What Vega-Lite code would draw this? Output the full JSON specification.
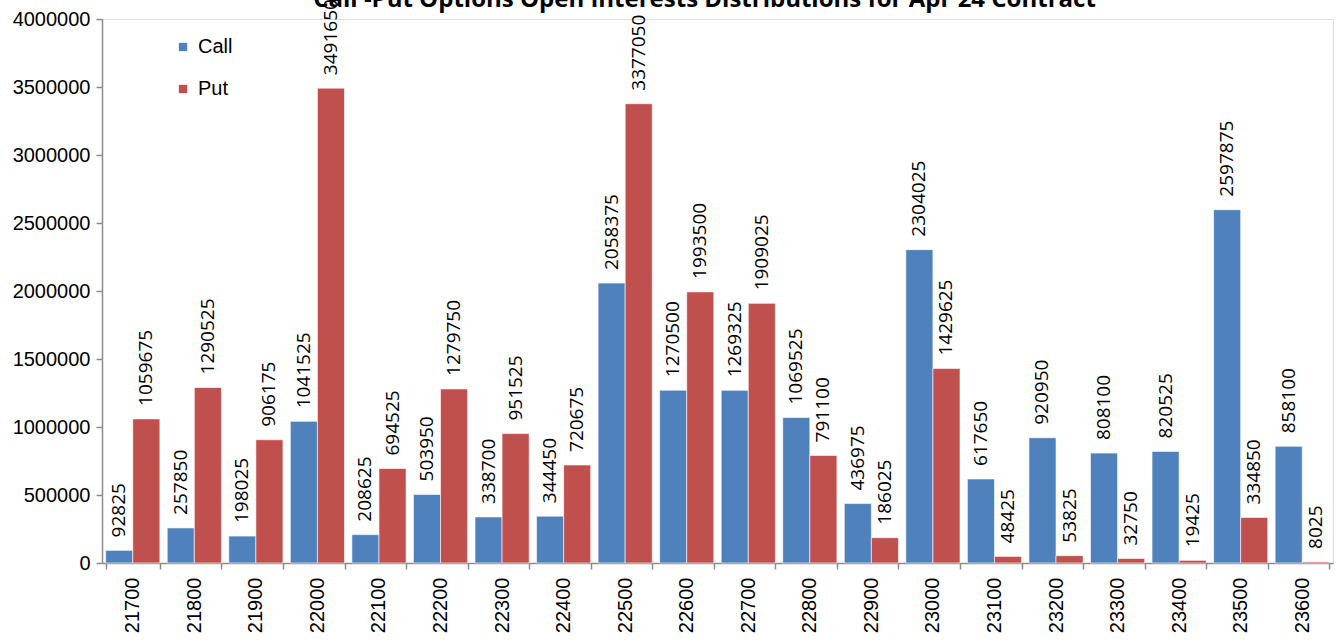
{
  "$schema": "https://vega.github.io/schema/vega-lite/v6.json",
  "autosize": {"type": "none"},
  "width": 1231,
  "height": 544,
  "padding": {"left": 102, "top": 19, "right": 9, "bottom": 78},
  "background": "white",
  "title": {
    "text": "Call -Put Options Open Interests Distributions for Apr 24 Contract",
    "anchor": "middle",
    "frame": "group",
    "dx": -13,
    "offset": -13,
    "font": "Open Sans",
    "fontSize": 24,
    "fontWeight": "bold",
    "color": "black"
  },
  "data": {
    "values": [
      {"strike": "21700", "type": "Call", "oi": 92825},
      {"strike": "21700", "type": "Put", "oi": 1059675},
      {"strike": "21800", "type": "Call", "oi": 257850},
      {"strike": "21800", "type": "Put", "oi": 1290525},
      {"strike": "21900", "type": "Call", "oi": 198025},
      {"strike": "21900", "type": "Put", "oi": 906175},
      {"strike": "22000", "type": "Call", "oi": 1041525},
      {"strike": "22000", "type": "Put", "oi": 3491650},
      {"strike": "22100", "type": "Call", "oi": 208625},
      {"strike": "22100", "type": "Put", "oi": 694525},
      {"strike": "22200", "type": "Call", "oi": 503950},
      {"strike": "22200", "type": "Put", "oi": 1279750},
      {"strike": "22300", "type": "Call", "oi": 338700},
      {"strike": "22300", "type": "Put", "oi": 951525},
      {"strike": "22400", "type": "Call", "oi": 344450},
      {"strike": "22400", "type": "Put", "oi": 720675},
      {"strike": "22500", "type": "Call", "oi": 2058375},
      {"strike": "22500", "type": "Put", "oi": 3377050},
      {"strike": "22600", "type": "Call", "oi": 1270500},
      {"strike": "22600", "type": "Put", "oi": 1993500},
      {"strike": "22700", "type": "Call", "oi": 1269325},
      {"strike": "22700", "type": "Put", "oi": 1909025},
      {"strike": "22800", "type": "Call", "oi": 1069525},
      {"strike": "22800", "type": "Put", "oi": 791100},
      {"strike": "22900", "type": "Call", "oi": 436975},
      {"strike": "22900", "type": "Put", "oi": 186025},
      {"strike": "23000", "type": "Call", "oi": 2304025},
      {"strike": "23000", "type": "Put", "oi": 1429625},
      {"strike": "23100", "type": "Call", "oi": 617650},
      {"strike": "23100", "type": "Put", "oi": 48425},
      {"strike": "23200", "type": "Call", "oi": 920950},
      {"strike": "23200", "type": "Put", "oi": 53825},
      {"strike": "23300", "type": "Call", "oi": 808100},
      {"strike": "23300", "type": "Put", "oi": 32750},
      {"strike": "23400", "type": "Call", "oi": 820525},
      {"strike": "23400", "type": "Put", "oi": 19425},
      {"strike": "23500", "type": "Call", "oi": 2597875},
      {"strike": "23500", "type": "Put", "oi": 334850},
      {"strike": "23600", "type": "Call", "oi": 858100},
      {"strike": "23600", "type": "Put", "oi": 8025}
    ]
  },
  "encoding": {
    "x": {
      "field": "strike",
      "type": "nominal",
      "sort": null,
      "scale": {"paddingInner": 0.12, "paddingOuter": 0.06},
      "axis": {
        "title": null,
        "labelAngle": -90,
        "labelAlign": "right",
        "labelBaseline": "middle",
        "labelFont": "Liberation Sans",
        "labelFontSize": 20,
        "labelColor": "black",
        "labelPadding": 8,
        "tickBand": "extent",
        "tickSize": 6,
        "tickColor": "#8c8c8c",
        "tickWidth": 1.5,
        "domainColor": "#8c8c8c",
        "domainWidth": 1.5
      }
    },
    "xOffset": {"field": "type", "type": "nominal", "scale": {"paddingInner": 0, "paddingOuter": 0}},
    "y": {
      "field": "oi",
      "type": "quantitative",
      "scale": {"domain": [0, 4000000], "nice": false},
      "axis": {
        "title": null,
        "values": [0, 500000, 1000000, 1500000, 2000000, 2500000, 3000000, 3500000, 4000000],
        "format": "d",
        "grid": false,
        "labelFont": "Liberation Sans",
        "labelFontSize": 20,
        "labelColor": "black",
        "labelPadding": 6,
        "tickSize": 6,
        "tickColor": "#8c8c8c",
        "tickWidth": 1.5,
        "domainColor": "#8c8c8c",
        "domainWidth": 1.5
      }
    }
  },
  "layer": [
    {
      "mark": {"type": "bar", "stroke": "white", "strokeWidth": 0.6},
      "encoding": {
        "color": {
          "field": "type",
          "type": "nominal",
          "scale": {"domain": ["Call", "Put"], "range": ["#4F81BD", "#C0504D"]},
          "legend": {
            "title": null,
            "orient": "none",
            "legendX": 71,
            "legendY": 18,
            "symbolType": "square",
            "symbolSize": 70,
            "symbolStrokeWidth": 0,
            "labelFont": "Liberation Sans",
            "labelFontSize": 20,
            "labelColor": "black",
            "labelOffset": 5,
            "rowPadding": 22
          }
        }
      }
    },
    {
      "mark": {
        "type": "text",
        "angle": -90,
        "align": "left",
        "baseline": "middle",
        "dx": 13,
        "font": "Open Sans",
        "fontSize": 19,
        "color": "black"
      },
      "encoding": {
        "text": {"field": "oi", "type": "quantitative", "format": "d"}
      }
    }
  ]
}
